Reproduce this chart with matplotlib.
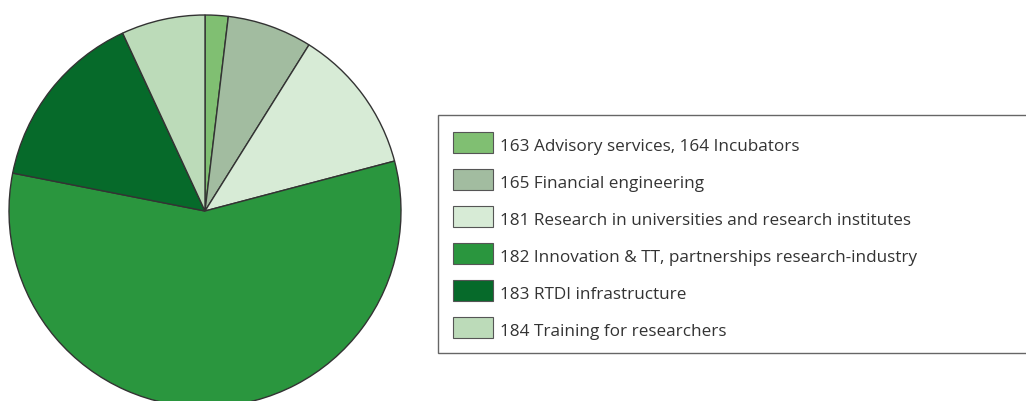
import matplotlib.pyplot as plt
from matplotlib.patches import Rectangle

labels = ["163 Advisory services, 164 Incubators",
          "165 Financial engineering",
          "181 Research in universities and research institutes",
          "182 Innovation & TT, partnerships research-industry",
          "183 RTDI infrastructure",
          "184 Training for researchers"]
shares = [1.9, 7.0, 12.0, 57.2, 15.0, 6.9]
colors = ["#80bf72", "#a2bca0", "#d7ebd6", "#2a963e", "#066a2a", "#bcdbb9"]

W, H = 1026, 401
fig = plt.figure(figsize=(W / 100, H / 100), dpi=100)
ax = fig.add_axes([0, 0, 1, 1])

# pie in pixel coords (y up)
ax.pie(shares, colors=colors, startangle=90, counterclock=False,
       center=(205, H - 211), radius=196,
       wedgeprops=dict(edgecolor="#333333", linewidth=1.0))

ax.set_xlim(0, W)
ax.set_ylim(0, H)
ax.set_aspect("equal")
ax.axis("off")

# legend box
ax.add_patch(Rectangle((437.5, H - 353), 700, 238, facecolor="white",
                       edgecolor="#666666", linewidth=1.0))
y0 = 142.5
step = 36.9
for i, (lab, c) in enumerate(zip(labels, colors)):
    y = H - (y0 + i * step)
    ax.add_patch(Rectangle((453, y - 10.5), 40, 21, facecolor=c,
                           edgecolor="#555555", linewidth=0.8))
    ax.text(500, y - 4.5, lab, fontsize=12.3, family="Open Sans", color="#333333",
            va="center", ha="left")

fig.savefig("out.png", dpi=100)
